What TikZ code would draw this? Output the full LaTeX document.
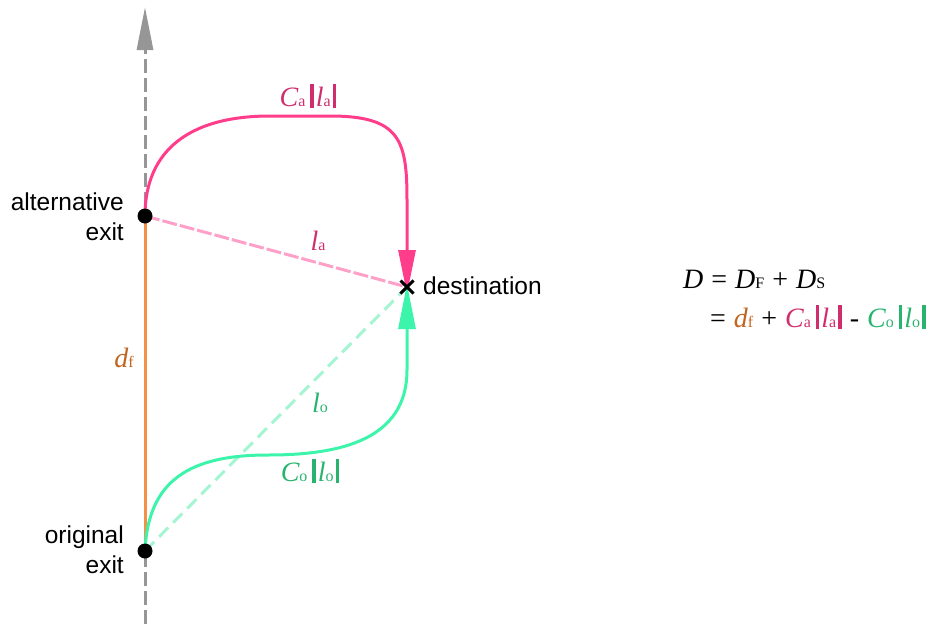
\documentclass[tikz,border=0pt]{standalone}
\usepackage{fontspec}
\setmainfont{Liberation Sans}
\newfontfamily\mserif{Liberation Serif}
\usetikzlibrary{arrows.meta}
\definecolor{pinkline}{RGB}{255,61,139}
\definecolor{pinktext}{RGB}{208,45,110}
\definecolor{pinklight}{RGB}{255,160,200}
\definecolor{greenline}{RGB}{60,245,170}
\definecolor{greentext}{RGB}{40,180,110}
\definecolor{greenlight}{RGB}{165,245,210}
\definecolor{orangeline}{RGB}{245,145,70}
\definecolor{orangetext}{RGB}{195,100,30}
\definecolor{axisgray}{RGB}{150,150,150}
\newcommand{\mv}[2]{{\mserif\itshape #1}{\mserif\fontsize{16}{16}\selectfont #2}}
\newcommand{\vb}{\rule[-0.08em]{3.5pt}{0.88em}}
\newcommand{\absv}[2]{\hspace{5pt}\vb\hspace{2pt}\mv{#1}{#2}\hspace{2pt}\vb}
\newcommand{\op}[1]{\hspace{8pt}#1\hspace{8pt}}
\tikzset{
  lbl/.style={font=\fontsize{24.5}{28}\selectfont, inner sep=0pt},
  mlbl/.style={font=\mserif\fontsize{28}{32}\selectfont, inner sep=0pt},
  dot/.style={circle, fill=black, minimum size=15pt, inner sep=0pt},
  route/.style={line width=3pt},
  straight/.style={line width=3pt, dash pattern=on 15pt off 3pt},
}
\begin{document}
\begin{tikzpicture}[x=1pt,y=-1pt]
\useasboundingbox (0,0) rectangle (946,624);
% axis
\coordinate (axbot) at (145,624);
\coordinate (axtop) at (145,7);
\draw[axisgray, line width=3pt, dash pattern=on 14pt off 5pt, -{Triangle[length=43pt,width=16pt]}] (axbot) -- (axtop);
% points
\coordinate (alt) at (145,216);
\coordinate (orig) at (145,551);
\coordinate (dest) at (407,287);
% orange d_f
\draw[orangeline, line width=3pt] (alt) -- (orig);
% straight dashed distances
\draw[pinklight, straight] (alt) -- (dest);
\draw[greenlight, straight, dash pattern=on 13pt off 7pt] (orig) -- (dest);
% routes
\draw[pinkline, route, -{Triangle[length=44pt,width=17pt]}]
  (alt) .. controls (145,150) and (190,116) .. (270,116) -- (330,116)
  .. controls (400,116) and (407,140) .. (407,200) -- ([yshift=-7pt]dest);
\draw[greenline, route, -{Triangle[length=45pt,width=17pt]}]
  (orig) .. controls (148,480) and (190,455) .. (268,455)
  .. controls (340,455) and (407,440) .. (407,370) -- ([yshift=3pt]dest);
% dots
\node[dot] (altdot) at (alt) {};
\node[dot] (origdot) at (orig) {};
% destination cross
\draw[black, line width=3pt] ([shift={(-6.5,-6.5)}]dest) -- ([shift={(6.5,6.5)}]dest);
\draw[black, line width=3pt] ([shift={(-6.5,6.5)}]dest) -- ([shift={(6.5,-6.5)}]dest);
% text labels
\node[lbl, anchor=base east] (altl1) at (124,210) {alternative};
\node[lbl, anchor=base east] (altl2) at (124,240) {exit};
\node[lbl, anchor=base east] (origl1) at (124,543) {original};
\node[lbl, anchor=base east] (origl2) at (124,573) {exit};
\node[lbl, anchor=base west] (destl) at (423,294) {destination};
% math labels
\node[mlbl, text=pinktext, anchor=base] (cala) at (308,106) {\mv{C}{a}\absv{l}{a}};
\node[mlbl, text=pinktext, anchor=base] (la) at (318,250) {\mv{l}{a}};
\node[mlbl, text=orangetext, anchor=base] (df) at (124,367) {\mv{d}{f}};
\node[mlbl, text=greentext, anchor=base] (lo) at (320,412) {\mv{l}{o}};
\node[mlbl, text=greentext, anchor=base] (colo) at (310,481) {\mv{C}{o}\absv{l}{o}};
% equation
\node[mlbl, anchor=base west] (eq1) at (683,288) {\mv{D}{}\op{=}\mv{D}{F}\op{+}\mv{D}{S}};
\node[mlbl, anchor=base west] (eq2) at (710,327) {=\op{\textcolor{orangetext}{\mv{d}{f}}}+\op{\textcolor{pinktext}{\mv{C}{a}\absv{l}{a}}}-\op{\textcolor{greentext}{\mv{C}{o}\absv{l}{o}}}};
\end{tikzpicture}
\end{document}
